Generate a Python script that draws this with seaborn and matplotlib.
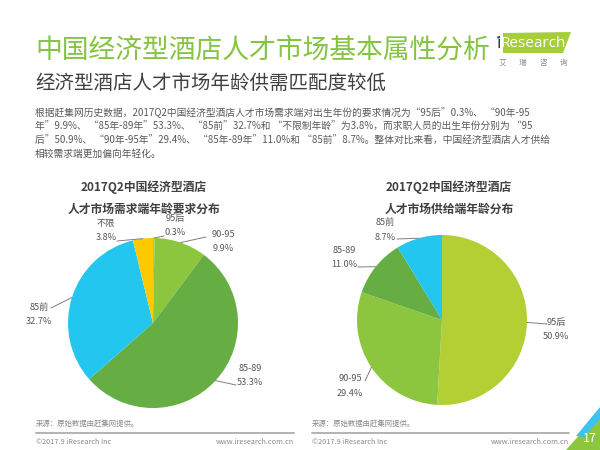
import matplotlib
matplotlib.use("Agg")
import matplotlib.pyplot as plt
from matplotlib.patches import Polygon, Circle
import numpy as np
import seaborn as sns

# ---------------- data ----------------
title_text = "中国经济型酒店人才市场基本属性分析"
subtitle_text = "经济型酒店人才市场年龄供需匹配度较低"
body_lines = [
    "根据赶集网历史数据，2017Q2中国经济型酒店人才市场需求端对出生年份的要求情况为“95后”0.3%、 “90年-95",
    "年”9.9%、 “85年-89年”53.3%、 “85前”32.7%和 “不限制年龄”为3.8%，而求职人员的出生年份分别为 “95",
    "后”50.9%、 “90年-95年”29.4%、 “85年-89年”11.0%和 “85前”8.7%。整体对比来看，中国经济型酒店人才供给",
    "相较需求端更加偏向年轻化。",
]
demand_title = "2017Q2中国经济型酒店\n人才市场需求端年龄要求分布"
supply_title = "2017Q2中国经济型酒店\n人才市场供给端年龄分布"

demand_labels = ["95后", "90-95", "85-89", "85前", "不限"]
demand_values = [0.3, 9.9, 53.3, 32.7, 3.8]
supply_labels = ["95后", "90-95", "85-89", "85前"]
supply_values = [50.9, 29.4, 11.0, 8.7]

source_text = "来源：原始数据由赶集网提供。"
copyright_text = "©2017.9 iResearch Inc"
url_text = "www.iresearch.com.cn"
page_text = "17"

# ---------------- style ----------------
sns.set_theme(style="white")
plt.rcParams["font.family"] = ["Noto Sans CJK SC", "DejaVu Sans"]

cat_colors = dict(zip(["95后", "90-95", "85-89", "85前", "不限"],
                      sns.color_palette(["#b2cf34", "#8cc63f", "#66ad44", "#22c6ef", "#fdc900"])))
GREEN = "#84c441"
DARK = "#404040"
GREY = "#595959"
LIGHT = "#8a8a8a"

W, H = 600, 450
fig = plt.figure(figsize=(W / 100, H / 100), dpi=100)
fig.patch.set_facecolor("white")


def f(x, y):
    return (x / W, 1 - y / H)


def ftext(x, y, s, **kw):
    fig.text(*f(x, y), s, transform=fig.transFigure, **kw)


# titles
ftext(35, 50, title_text, fontsize=19.3, color=GREEN, va="center", ha="left")
ftext(35, 83, subtitle_text, fontsize=14, color=DARK, va="center", ha="left")
for y, line in zip([113, 127, 140.5, 154], body_lines):
    ftext(35, y, line, fontsize=7, color=GREY, va="center", ha="left")

# logo
fig.patches.append(Polygon([f(503, 33), f(571, 32), f(563, 53), f(503, 53)], closed=True,
                           transform=fig.transFigure, facecolor="#a6ce39", edgecolor="none"))
ftext(498.5, 44, "i", fontsize=11.5, color="#3a3a3a", va="center", ha="center", family=["DejaVu Sans"])
fig.patches.append(Circle(f(498.5, 37.5), 1.6 / W, transform=fig.transFigure,
                          facecolor="#1a75bc", edgecolor="none"))
ftext(533, 43.5, "Research", fontsize=11, color="white", va="center", ha="center",
      family=["Open Sans", "DejaVu Sans"])
for i, ch in enumerate("艾瑞咨询"):
    ftext(502 + i * 20.5, 63, ch, fontsize=5.5, color=LIGHT, va="center", ha="center")


# pies
def draw_pie(cx, cy, r, labels, values, title_pos, title, layout):
    ax = fig.add_axes([(cx - r) / W, (H - cy - r) / H, 2 * r / W, 2 * r / H])
    wedges, _ = ax.pie(values, colors=[cat_colors[l] for l in labels], startangle=90,
                       counterclock=False, radius=1, wedgeprops=dict(linewidth=0))
    ax.set_xlim(-1, 1)
    ax.set_ylim(-1, 1)
    ax.set_aspect("equal")
    ax.axis("off")
    for w, lab, val in zip(wedges, labels, values):
        (tx, ty), (ex, ey) = layout[lab]
        ang = np.deg2rad((w.theta1 + w.theta2) / 2)
        ax.annotate("", xy=(np.cos(ang), np.sin(ang)), xycoords="data",
                    xytext=(ex, H - ey), textcoords="figure pixels",
                    arrowprops=dict(arrowstyle="-", color="#7f7f7f", lw=0.7,
                                    shrinkA=0, shrinkB=0),
                    annotation_clip=False)
        ftext(tx, ty, f"{lab}\n{val:.1f}%", fontsize=6.6, color=GREY, va="center",
              ha="center", linespacing=1.75)
    ftext(title_pos[0], title_pos[1], title, fontsize=8.5, color=DARK, fontweight="bold",
          va="center", ha="center", linespacing=1.8)


demand_layout = {
    "95后": ((175, 225.5), (164, 236)),
    "90-95": ((223, 241.5), (206, 237)),
    "85-89": ((250, 375.5), (236, 385)),
    "85前": ((39, 314.5), (51, 308)),
    "不限": ((106, 230.5), (117, 241)),
}
supply_layout = {
    "95后": ((556, 329.5), (547, 324)),
    "90-95": ((350, 386), (365, 381)),
    "85-89": ((344, 257.5), (358, 267)),
    "85前": ((385, 230), (397, 239)),
}
draw_pie(153, 323, 85, demand_labels, demand_values, (144, 198), demand_title, demand_layout)
draw_pie(442, 320, 85, supply_labels, supply_values, (449, 198), supply_title, supply_layout)

# footer
for x0, x1 in [(36, 294), (312, 569)]:
    ftext(x0, 424, source_text, fontsize=5.3, color=LIGHT, va="center", ha="left")
    fig.lines.append(plt.Line2D([x0 / W, x1 / W], [1 - 433 / H, 1 - 433 / H],
                                transform=fig.transFigure, color="#b3b3b3", lw=1.4))
    ftext(x0, 441.5, copyright_text, fontsize=5.3, color=LIGHT, va="center", ha="left")
    ftext(x1, 441.5, url_text, fontsize=5.3, color=LIGHT, va="center", ha="right")

# page corner
fig.patches.append(Polygon([f(566, 450), f(600, 412), f(600, 450)], closed=True,
                           transform=fig.transFigure, facecolor="#8cc63f", edgecolor="none"))
fig.patches.append(Polygon([f(576, 436), f(600, 407), f(600, 419), f(584, 437)], closed=True,
                           transform=fig.transFigure, facecolor="#3cc4ef", edgecolor="none"))
ftext(590, 438, page_text, fontsize=9, color="white", va="center", ha="center")

fig.savefig("out.png", dpi=100)
